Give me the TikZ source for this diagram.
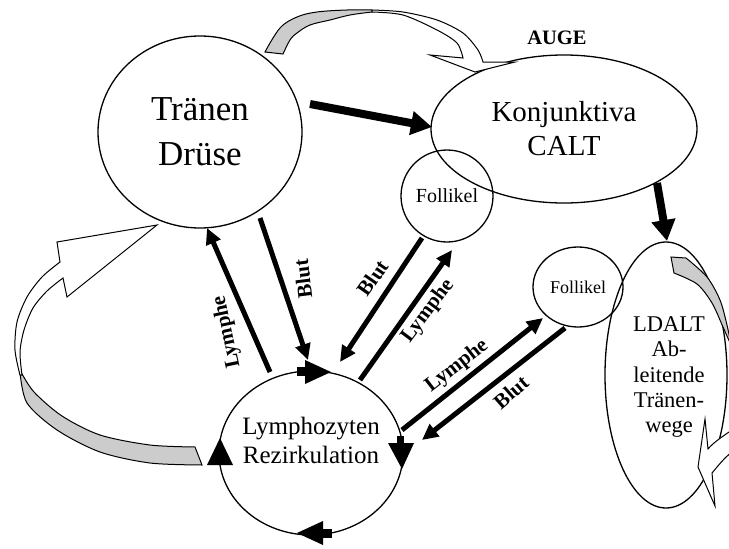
\documentclass[tikz,border=0pt]{standalone}
\usepackage{fontspec}
\setmainfont{Liberation Serif}
\usetikzlibrary{shapes.geometric,arrows.meta}
\begin{document}
\begin{tikzpicture}[x=1pt,y=-1pt,
  blob/.style={draw,line width=1.3pt,ellipse,inner sep=0pt,align=center},
  lbl/.style={font=\bfseries\fontsize{21}{21}\selectfont,inner sep=0pt},
  flow/.style={line width=5pt,-{Triangle[length=16pt,width=15pt]}},
  bigflow/.style={line width=8pt,-{Triangle[length=21pt,width=23pt]}},
  band/.style={draw,line width=1pt,line join=miter},
  shade/.style={band,fill=gray!40},
  blank/.style={band,fill=white},
  tipmark/.style={fill=black},
]
\useasboundingbox (0,0) rectangle (729,549);

% nodes
\node[blob,minimum width=204pt,minimum height=192pt,
      font=\fontsize{35}{45}\selectfont] (tr) at (200,132) {Tränen\\Drüse};
\node[blob,minimum width=266pt,minimum height=148pt,
      font=\fontsize{29}{34}\selectfont] (kj) at (564,129) {Konjunktiva\\CALT};
\node[font=\bfseries\fontsize{20.5}{20.5}\selectfont,inner sep=0pt] (auge) at (557,38) {AUGE};
\node[blob,minimum width=122pt,minimum height=266pt] (ld) at (666,375) {};
\node[font=\fontsize{22.5}{25.3}\selectfont,align=center,inner sep=0pt] (ldt) at (669,377)
      {LDALT\\Ab-\\leitende\\Tränen-\\wege};
\node[blob,minimum width=92pt,minimum height=92pt,
      font=\fontsize{20}{20}\selectfont] (f1) at (447,196) {Follikel};
\node[blob,minimum width=90pt,minimum height=80pt,
      font=\fontsize{18}{18}\selectfont] (f2) at (578,287) {Follikel};
\node[blob,minimum width=184pt,minimum height=164pt] (ly) at (311,453) {};
\node[font=\fontsize{25}{29}\selectfont,align=center,inner sep=0pt] (lyt) at (311,440)
      {Lymphozyten\\Rezirkulation};

% circulation marks on the Lymphozyten circle
\fill[tipmark] (297,367) rectangle (306,376);
\fill[tipmark] (305,360) -- (331,372) -- (305,384) -- cycle;
\fill[tipmark] (397,436) rectangle (404,444);
\fill[tipmark] (388,443) -- (414,443) -- (402,469) -- cycle;
\fill[tipmark] (323,529) rectangle (332,538);
\fill[tipmark] (323,521) -- (297,533) -- (323,545) -- cycle;
\fill[tipmark] (207,465) -- (220,438) -- (233,465) -- cycle;

% top curved block arrow (Tränen -> Konjunktiva)
\filldraw[shade] plot[smooth,tension=0.6] coordinates {(265,52) (280,28) (297,17) (317,12) (347,10) (372,10)}
  -- plot[smooth,tension=0.6] coordinates {(372,12) (350,15) (330,20) (310,25) (297,33) (290,40) (283,54)} -- cycle;
\filldraw[blank] plot[smooth] coordinates {(372,10) (403,12) (437,20) (463,33) (478,50) (483,62)}
  -- (515,62) -- (475,72) -- (430,55) -- (463,58)
  -- plot[smooth] coordinates {(463,58) (457,43) (437,30) (403,15) (372,12)} -- cycle;

% left curved block arrow (Lymphozyten -> Tränen)
\filldraw[shade] plot[smooth] coordinates {(20,372) (27,403) (57,430) (100,452) (150,463) (202,465)}
  -- (195,447)
  -- plot[smooth] coordinates {(195,447) (150,445) (100,435) (62,416) (34,392) (21,372)} -- cycle;
\filldraw[blank] plot[smooth] coordinates {(20,375) (15,350) (17,322) (27,297) (42,277) (60,262)}
  -- (57,242) -- (157,225) -- (67,297) -- (63,278)
  -- plot[smooth] coordinates {(63,278) (47,291) (33,308) (24,330) (20,352) (22,375)} -- cycle;

% right curved block arrow inside LDALT
\filldraw[shade] (671,257) -- plot[smooth] coordinates {(686,258) (707,277) (720,300) (727,325) (731,345)}
  -- plot[smooth] coordinates {(731,345) (723,327) (712,303) (697,284) (674,273)} -- cycle;
\fill[white] (732,430) .. controls (720,438) and (712,444) .. (708,449) -- (705,419) -- (698,467)
  -- (715,506) -- (712,473) .. controls (718,466) and (724,458) .. (732,452) -- cycle;
\draw[band] (732,430) .. controls (720,438) and (712,444) .. (708,449) -- (705,419) -- (698,467)
  -- (715,506) -- (712,473) .. controls (718,466) and (724,458) .. (732,452);

% straight arrows
\coordinate (a1s) at (310,104); \coordinate (a1e) at (432,127);
\coordinate (a2s) at (657,183); \coordinate (a2e) at (667,241);
\coordinate (a3s) at (270,372); \coordinate (a3e) at (207,228);
\coordinate (a4s) at (260,218); \coordinate (a4e) at (308,360);
\coordinate (a5s) at (422,238); \coordinate (a5e) at (340,362);
\coordinate (a6s) at (360,380); \coordinate (a6e) at (452,250);
\coordinate (a7s) at (402,430); \coordinate (a7e) at (543,318);
\coordinate (a8s) at (565,328); \coordinate (a8e) at (422,440);

\draw[bigflow] (a1s) -- (a1e);
\draw[bigflow] (a2s) -- (a2e);
\draw[flow] (a3s) -- (a3e);
\draw[flow] (a4s) -- (a4e);
\draw[flow] (a5s) -- (a5e);
\draw[flow] (a6s) -- (a6e);
\draw[flow] (a7s) -- (a7e);
\draw[flow] (a8s) -- (a8e);

% labels
\node[lbl,rotate=102] (l3) at (227,332) {Lymphe};
\node[lbl,rotate=97] (l4) at (303,279) {Blut};
\node[lbl,rotate=55] (l5) at (373,278) {Blut};
\node[lbl,rotate=53] (l6) at (428,311) {Lymphe};
\node[lbl,rotate=38] (l7) at (457,366) {Lymphe};
\node[lbl,rotate=41] (l8) at (511,392) {Blut};
\end{tikzpicture}
\end{document}
